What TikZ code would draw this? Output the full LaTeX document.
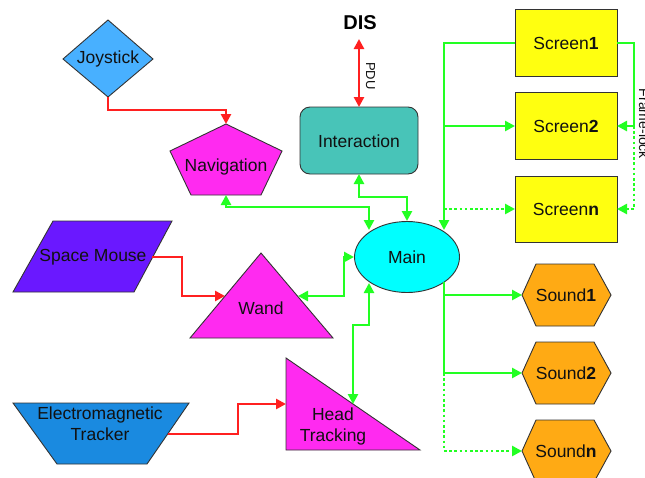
\documentclass[tikz,border=0pt]{standalone}
\usepackage{fontspec}
\setmainfont{Liberation Sans}
\usetikzlibrary{arrows.meta}
\definecolor{cJoy}{HTML}{48B0FF}
\definecolor{cMag}{HTML}{FF2AF0}
\definecolor{cInt}{HTML}{48C4B8}
\definecolor{cMain}{HTML}{00FFFF}
\definecolor{cSM}{HTML}{6A18FF}
\definecolor{cEM}{HTML}{1A8AE0}
\definecolor{cScr}{HTML}{FFFF10}
\definecolor{cSnd}{HTML}{FFAA14}
\definecolor{cGrn}{HTML}{22FF22}
\definecolor{cRed}{HTML}{FF2020}
\definecolor{cEdge}{HTML}{333333}
\definecolor{cTxt}{HTML}{111111}
\tikzset{
  shapebox/.style={draw=cEdge, line width=0.9pt, line join=miter},
  lbl/.style={text=cTxt, font=\fontsize{17.5}{21}\selectfont, align=center, inner sep=0pt},
  tip/.style={-{Triangle[length=10pt,width=10pt]}},
  dtip/.style={{Triangle[length=10pt,width=10pt]}-{Triangle[length=10pt,width=10pt]}},
  gline/.style={draw=cGrn, line width=2.8pt},
  rline/.style={draw=cRed, line width=2.8pt},
  dotline/.style={dash pattern=on 2.6pt off 2.6pt},
}
\begin{document}
\begin{tikzpicture}[x=1pt,y=-1pt]
\useasboundingbox[fill=white] (0,0) rectangle (645,477);

% ---------- shapes ----------
\draw[shapebox, fill=cJoy] (108,20) -- (153,59) -- (108,97) -- (63,59) -- cycle;
\node[lbl] (joy) at (108,59) {Joystick};
\draw[shapebox, fill=cMag] (226,124) -- (282,151) -- (261,195) -- (191,195) -- (170,151) -- cycle;
\node[lbl] (nav) at (226,167) {Navigation};
\draw[shapebox, fill=cInt, rounded corners=10pt] (300,107) rectangle (418,174);
\node[lbl] (int) at (359,141) {Interaction};
\node[text=black, font=\bfseries\fontsize{20}{24}\selectfont, inner sep=0pt] (dis) at (360,23) {DIS};
\draw[shapebox, fill=cMain] (407,257) ellipse [x radius=52.5, y radius=35.5];
\node[lbl] (main) at (407,257) {Main};
\draw[shapebox, fill=cSM] (53,221) -- (172,221) -- (134,292) -- (13,292) -- cycle;
\node[lbl] (sm) at (93,257) {Space Mouse};
\draw[shapebox, fill=cMag] (261,253) -- (333,338) -- (190,338) -- cycle;
\node[lbl] (wand) at (261,308) {Wand};
\draw[shapebox, fill=cEM] (13,403) -- (189,403) -- (147,464) -- (57,464) -- cycle;
\node[lbl] (em) at (100,424) {Electromagnetic\\Tracker};
\draw[shapebox, fill=cMag] (286,358) -- (420,450) -- (286,450) -- cycle;
\node[lbl] (head) at (333,426) {Head\\Tracking};
\draw[shapebox, fill=cScr] (515,9) rectangle (617,76);
\node[lbl] (s1) at (566,43) {Screen\textbf{1}};
\draw[shapebox, fill=cScr] (515,92) rectangle (617,159);
\node[lbl] (s2) at (566,126) {Screen\textbf{2}};
\draw[shapebox, fill=cScr] (515,176) rectangle (617,242);
\node[lbl] (sn) at (566,209) {Screen\textbf{n}};
\foreach \cy/\nm/\tx in {295/snd1/1, 373/snd2/2, 451/sndn/n}{
  \draw[shapebox, fill=cSnd] (522,\cy) -- (536,\cy-31) -- (594,\cy-31) -- (611,\cy) -- (594,\cy+31) -- (536,\cy+31) -- cycle;
  \node[lbl] (\nm) at (566,\cy) {Sound\textbf{\tx}};
}

% ---------- connection points ----------
\coordinate (joyS) at (108,97);
\coordinate (navN) at (226,124);
\coordinate (navS) at (226,195);
\coordinate (intN) at (359,107);
\coordinate (intS) at (359,174);
\coordinate (disS) at (359,39);
\coordinate (mainN) at (407,221);
\coordinate (mainNW) at (369,230);
\coordinate (mainNE) at (444,230);
\coordinate (mainW) at (354,257);
\coordinate (mainSW) at (369,283);
\coordinate (mainSE) at (444,282);
\coordinate (smE) at (152,257);
\coordinate (wandL) at (225,296);
\coordinate (wandR) at (298,296);
\coordinate (emE) at (168,434);
\coordinate (headW) at (286,404);
\coordinate (headH) at (353,404);
\coordinate (s1W) at (515,43);
\coordinate (s1E) at (617,43);
\coordinate (s2W) at (515,126);
\coordinate (s2E) at (617,126);
\coordinate (snW) at (515,209);
\coordinate (snE) at (617,209);
\coordinate (snd1W) at (522,295);
\coordinate (snd2W) at (522,373);
\coordinate (sndnW) at (522,451);
\coordinate (busTop) at (444,43);
\coordinate (busMid) at (444,126);
\coordinate (busLow) at (444,209);
\coordinate (sBus1) at (444,295);
\coordinate (sBus2) at (444,373);
\coordinate (sBusN) at (444,451);
\coordinate (flTop) at (634,43);
\coordinate (flMid) at (634,126);
\coordinate (flLow) at (634,209);

% ---------- red connectors ----------
\draw[rline, tip] (joyS) -- (108,110) -| (navN);
\draw[rline, dtip] (disS) -- (intN);
\node[text=cTxt, font=\fontsize{13}{15}\selectfont, rotate=-90, anchor=base, inner sep=0pt] (pdu) at (366,76) {PDU};
\draw[rline, tip] (smE) -- (182,257) |- (wandL);
\draw[rline, tip] (emE) -- (238,434) |- (headW);

% ---------- green connectors ----------
\draw[gline, dtip] (navS) -- (226,207) -| (mainNW);
\draw[gline, dtip] (intS) -- (359,197) -| (mainN);
\draw[gline, dtip] (wandR) -- (344,296) |- (mainW);
\draw[gline, dtip] (mainSW) -- (369,325) -| (headH);
\draw[gline, tip] (s1W) -- (busTop) -- (mainNE);
\draw[gline, tip] (busMid) -- (s2W);
\draw[gline, dotline, tip] (busLow) -- (snW);
\draw[gline, tip] (s1E) -- (flTop) |- (s2E);
\draw[gline, dotline] (flMid) -- (flLow);
\draw[gline, dotline, tip] (flLow) -- (snE);
\node[text=cTxt, font=\fontsize{14}{16}\selectfont, rotate=-90, anchor=base, inner sep=0pt] (fl) at (639,124) {Frame-lock};
\draw[gline] (mainSE) -- (sBus2);
\draw[gline, tip] (sBus1) -- (snd1W);
\draw[gline, tip] (sBus2) -- (snd2W);
\draw[gline, dotline] (sBus2) -- (sBusN);
\draw[gline, dotline, tip] (sBusN) -- (sndnW);
\end{tikzpicture}
\end{document}
